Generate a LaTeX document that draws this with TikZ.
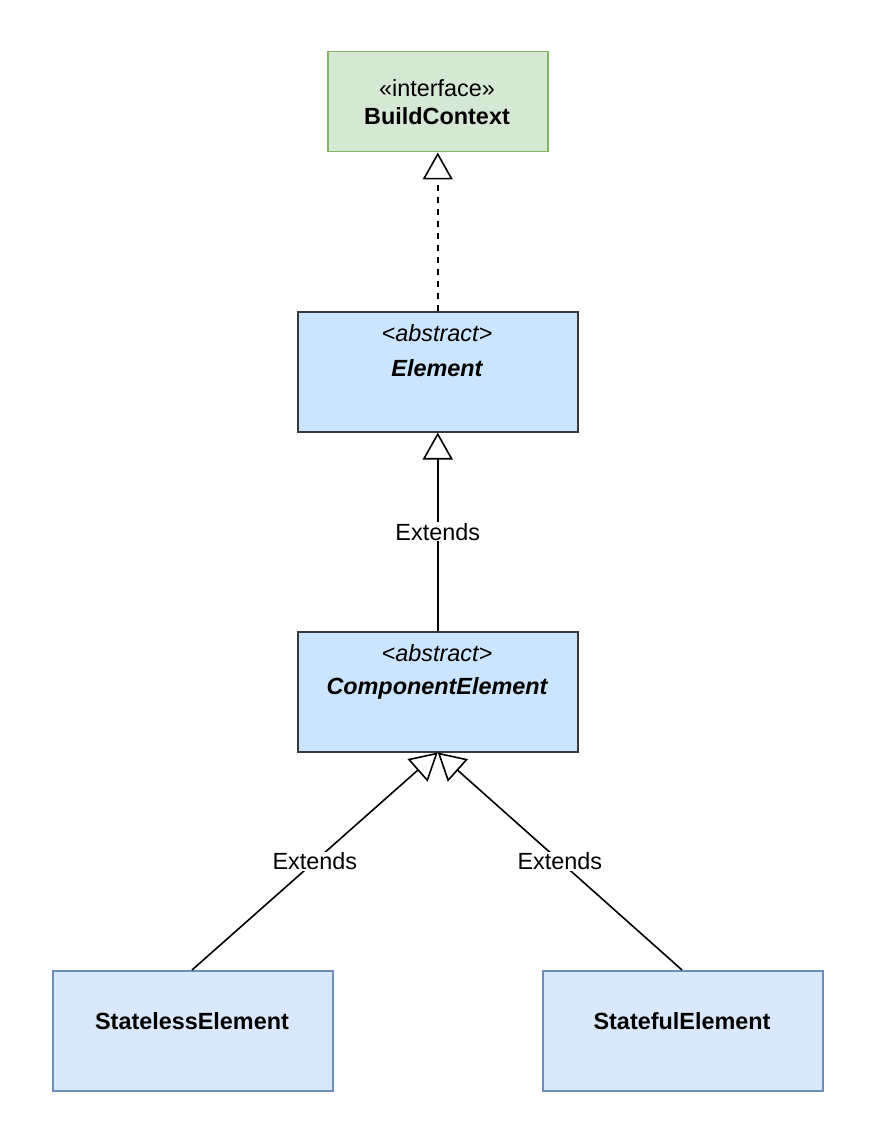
\documentclass[tikz,border=0pt]{standalone}
\usepackage{fontspec}
\setmainfont{Liberation Sans}
\usetikzlibrary{arrows.meta}
\begin{document}
\begin{tikzpicture}[x=1pt,y=-1pt,
  txt/.style={font=\fontsize{23.4}{28}\selectfont},
  cls/.style={draw, line width=1.5pt, minimum width=280pt, minimum height=120pt, anchor=north west, inner sep=0pt},
  iface/.style={cls, minimum width=220pt, minimum height=100pt, fill={rgb,255:red,213;green,232;blue,212}, draw={rgb,255:red,130;green,179;blue,102}},
  abst/.style={cls, fill={rgb,255:red,204;green,229;blue,255}, draw={rgb,255:red,54;green,57;blue,61}},
  conc/.style={cls, fill={rgb,255:red,218;green,232;blue,252}, draw={rgb,255:red,108;green,142;blue,191}},
  inherit/.style={line width=1.6pt, -{Triangle[open, length=27pt, width=30pt, fill=white]}},
  lbl/.style={txt, fill=white, inner sep=1pt}
]
\useasboundingbox[fill=white] (0,0) rectangle (872,1142);

% class boxes
\node[iface] (ctx) at (327,51) {};
\node[abst] (elem) at (297,311) {};
\node[abst] (comp) at (297,631) {};
\node[conc] (sless) at (52,970) {};
\node[conc] (sful) at (542,970) {};

% box captions
\node[txt] (ctxs) at (437,88) {«interface»};
\node[txt] (ctxn) at (437,116) {\bfseries BuildContext};
\node[txt] (elems) at (437,333) {\itshape <abstract>};
\node[txt] (elemn) at (437,368) {\bfseries\itshape Element};
\node[txt] (comps) at (437,653) {\itshape <abstract>};
\node[txt] (compn) at (437,688) {\bfseries\itshape ComponentElement};
\node[txt] (slessn) at (192,1021) {\bfseries StatelessElement};
\node[txt] (sfuln) at (682,1021) {\bfseries StatefulElement};

% realization and generalization links
\draw[inherit, dash pattern=on 6pt off 6pt] (elem.north) -- (ctx.south);
\draw[inherit] (comp.north) -- node[lbl] (l1) {Extends} (elem.south);
\coordinate (sl) at (192,970);
\coordinate (sf) at (682,970);
\draw[inherit] (sl) -- node[lbl, pos=0.5] (l2) {Extends} (comp.south);
\draw[inherit] (sf) -- node[lbl, pos=0.5] (l3) {Extends} (comp.south);
\end{tikzpicture}
\end{document}
